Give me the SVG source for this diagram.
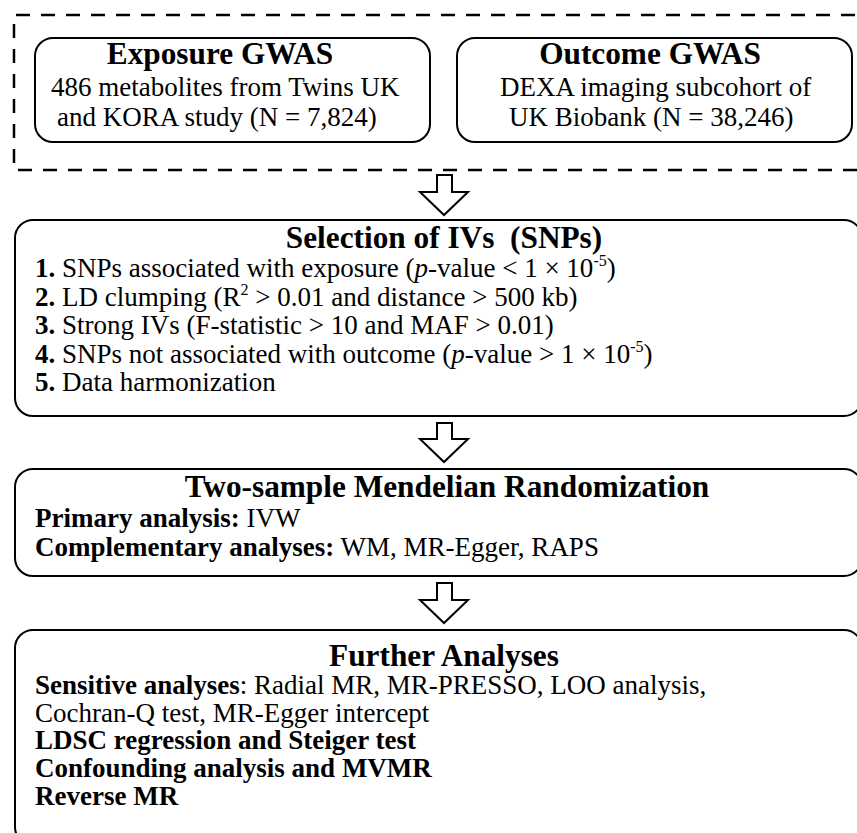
<svg xmlns="http://www.w3.org/2000/svg" width="857" height="833" viewBox="0 0 857 833">
<style>
  .box { fill: #ffffff; stroke: #000000; stroke-width: 2; }
  .dash { fill: none; stroke: #000000; stroke-width: 2.5; stroke-dasharray: 14 11; }
  .arrow { fill: #ffffff; stroke: #000000; stroke-width: 2; stroke-linejoin: miter; }
  text { font-family: "Liberation Serif", "Times New Roman", serif; fill: #000000; }
  .title { font-size: 31.3px; font-weight: bold; text-anchor: middle; }
  .body { font-size: 27px; }
  .b { font-weight: bold; }
  .i { font-style: italic; }
  .sup { font-size: 16px; }
</style>
<rect width="857" height="833" fill="#ffffff"/>
<g id="gwas-group">
  <path class="dash" d="M 880 15 H 14 V 170 H 880"/>
</g>
<g id="exposure">
  <rect class="box" x="35" y="38" width="395" height="104" rx="18" ry="18"/>
  <text class="title" x="220" y="64">Exposure GWAS</text>
  <text class="body" x="51" y="96">486 metabolites from Twins UK</text>
  <text class="body" x="57" y="126">and KORA study (N = 7,824)</text>
</g>
<g id="outcome">
  <rect class="box" x="457" y="38" width="395" height="104" rx="18" ry="18"/>
  <text class="title" x="650" y="64">Outcome GWAS</text>
  <text class="body" x="500" y="96">DEXA imaging subcohort of</text>
  <text class="body" x="509" y="126">UK Biobank (N = 38,246)</text>
</g>
<g id="selection">
  <rect class="box" x="15" y="220" width="847" height="196" rx="18" ry="18"/>
  <text class="title" x="444" y="248" xml:space="preserve">Selection of IVs  (SNPs)</text>
  <text class="body" x="35" y="277"><tspan class="b">1.</tspan> SNPs associated with exposure (<tspan class="i">p</tspan>-value &lt; 1 × 10<tspan class="sup" dy="-11">-5</tspan><tspan dy="11">)</tspan></text>
  <text class="body" x="35" y="305.5"><tspan class="b">2.</tspan> LD clumping (R<tspan class="sup" dy="-11">2</tspan><tspan dy="11"> &gt; 0.01 and distance &gt; 500 kb)</tspan></text>
  <text class="body" x="35" y="334"><tspan class="b">3.</tspan> Strong IVs (F-statistic &gt; 10 and MAF &gt; 0.01)</text>
  <text class="body" x="35" y="362.5"><tspan class="b">4.</tspan> SNPs not associated with outcome (<tspan class="i">p</tspan>-value &gt; 1 × 10<tspan class="sup" dy="-11">-5</tspan><tspan dy="11">)</tspan></text>
  <text class="body" x="35" y="391"><tspan class="b">5.</tspan> Data harmonization</text>
</g>
<g id="two-sample-mr">
  <rect class="box" x="15" y="469" width="847" height="107" rx="18" ry="18"/>
  <text class="title" x="447" y="497">Two-sample Mendelian Randomization</text>
  <text class="body" x="35" y="527"><tspan class="b">Primary analysis:</tspan> IVW</text>
  <text class="body" x="35" y="556"><tspan class="b">Complementary analyses:</tspan> WM, MR-Egger, RAPS</text>
</g>
<g id="further-analyses">
  <rect class="box" x="15" y="630" width="847" height="215" rx="18" ry="18"/>
  <text class="title" x="444" y="666">Further Analyses</text>
  <text class="body" x="35" y="694"><tspan class="b">Sensitive analyses</tspan>: Radial MR, MR-PRESSO, LOO analysis,</text>
  <text class="body" x="35" y="722">Cochran-Q test, MR-Egger intercept</text>
  <text class="body b" x="35" y="749">LDSC regression and Steiger test</text>
  <text class="body b" x="35" y="777">Confounding analysis and MVMR</text>
  <text class="body b" x="35" y="805">Reverse MR</text>
</g>
<g id="connectors">
  <path class="arrow" d="M 437 175 H 452 V 192 H 468 L 444 215 L 420 192 H 437 Z"/>
  <path class="arrow" d="M 437 423 H 452 V 439 H 468 L 444 462 L 420 439 H 437 Z"/>
  <path class="arrow" d="M 437 583 H 452 V 600 H 468 L 444 623 L 420 600 H 437 Z"/>
</g>
</svg>
